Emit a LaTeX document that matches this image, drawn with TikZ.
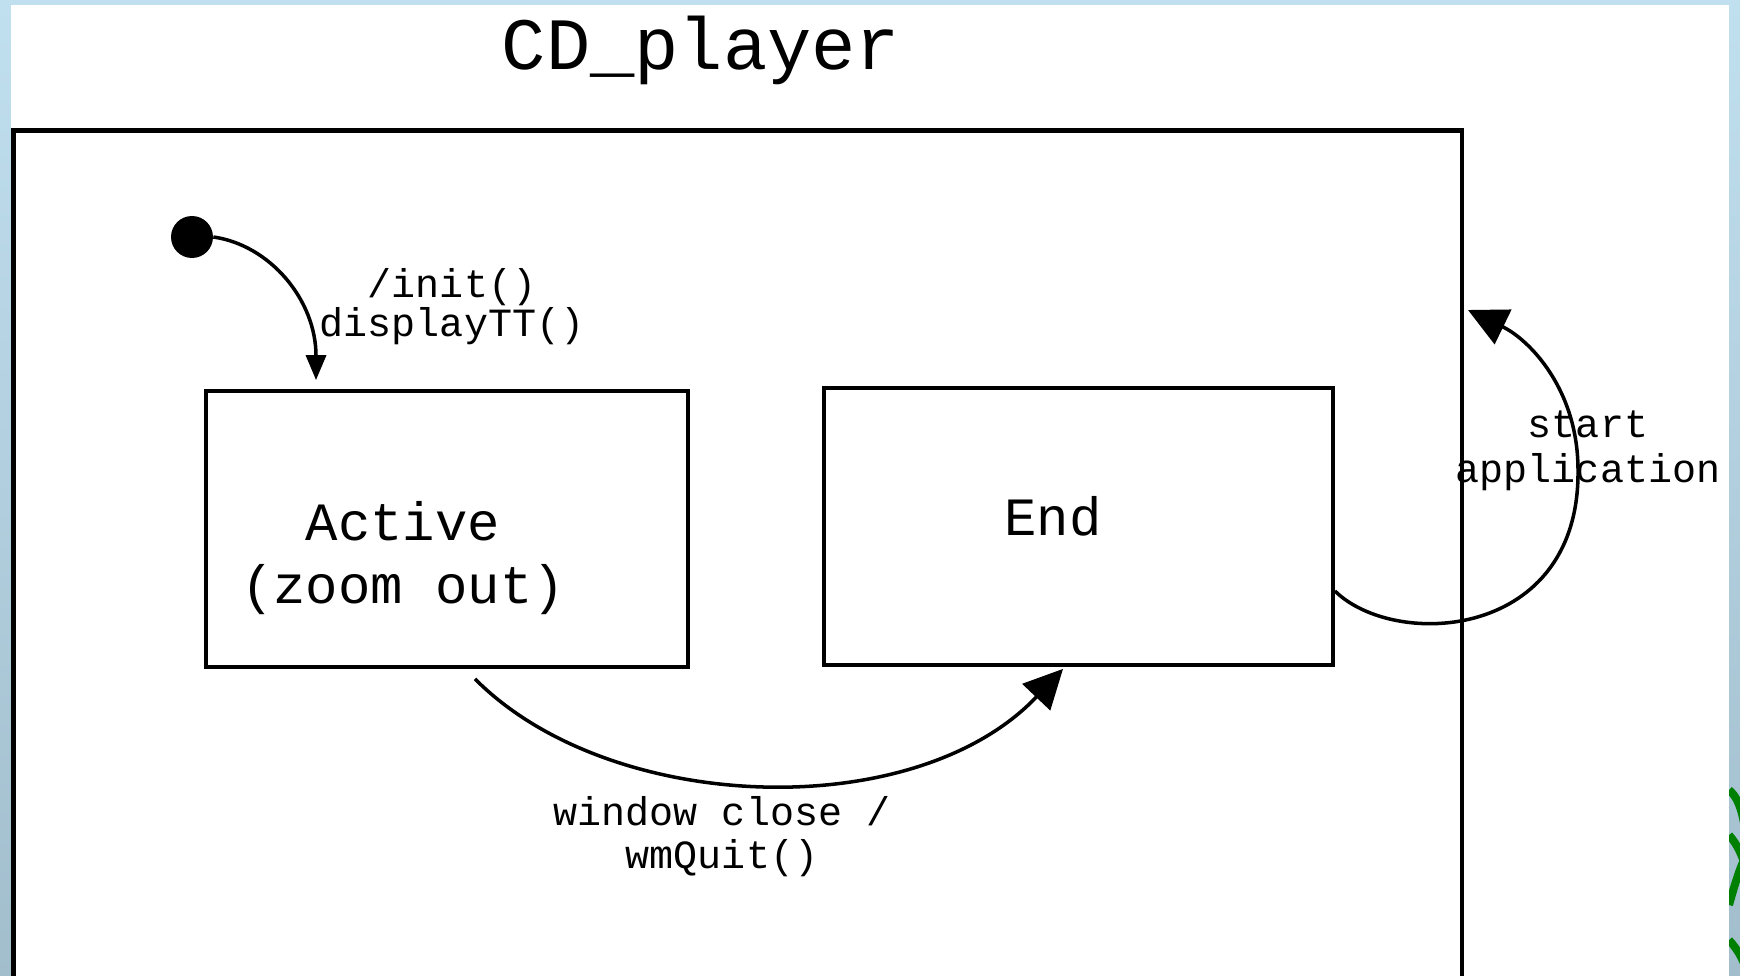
\documentclass[tikz,border=0pt]{standalone}
\usepackage{xcolor}
\usepackage{fontspec}
\setmonofont{Liberation Mono}
\usepackage{tikz}
\usetikzlibrary{arrows.meta, positioning}

\definecolor{slidetop}{RGB}{192,223,239}
\definecolor{slidebot}{RGB}{162,190,205}
\definecolor{leafgreen}{RGB}{0,128,0}

\begin{document}
\begin{tikzpicture}[
            x=0.02cm, y=-0.02cm,
            frm/.style={rectangle, draw, line width=2.6pt,
                    minimum width=28.97cm, minimum height=17.39cm},
            st/.style={rectangle, draw, line width=2.2pt, fill=white},
            ttl/.style={font=\ttfamily\fontsize{42}{46}\selectfont, inner sep=0pt},
            sttxt/.style={font=\ttfamily\fontsize{30.7}{35.3}\selectfont,
                    align=center, inner sep=0pt},
            lbl/.style={font=\ttfamily\fontsize{22.8}{21}\selectfont,
                    align=center, inner sep=0pt},
            ini/.style={circle, fill=black, minimum size=0.84cm, inner sep=0pt},
            rel/.style={draw, line width=2pt, -{Triangle[length=0.78cm,width=0.76cm]}},
            relsm/.style={draw, line width=2pt, -{Triangle[length=0.5cm,width=0.4cm]}},
            leaf/.style={draw=leafgreen, line width=0.16cm}
            ]
            \useasboundingbox (0,0) rectangle (1740,976);

            %% ---- Slide background ----
            \shade[top color=slidetop, bottom color=slidebot] (0,0) rectangle (1740,976);
            \fill[white] (11,5) rectangle (1729,976);
            \begin{scope}
                \clip (1729,780) rectangle (1740,976);
                \draw[leaf] (1729,790) .. controls (1742,800) and (1748,830) .. (1746,870);
                \draw[leaf] (1729,835) .. controls (1738,845) and (1745,860) .. (1748,880);
                \draw[leaf] (1729,905) .. controls (1736,880) and (1742,860) .. (1750,850);
                \draw[leaf] (1729,940) .. controls (1738,950) and (1744,960) .. (1748,976);
            \end{scope}

            %% ---- Composite state ----
            \node[ttl, anchor=base] (title) at (701,70) {CD\_player};
            \node[frm] (cdplayer) at (737.75,565.25) {};

            %% ---- States ----
            \node[ini] (init) at (192,237) {};
            \node[st, minimum width=9.64cm, minimum height=5.52cm] (active) at (447,529) {};
            \node[sttxt, anchor=base] (activetxt) at (403,603) {Active\\(zoom out)};
            \node[st, minimum width=10.18cm, minimum height=5.54cm] (endst) at (1078.5,526.5) {};
            \node[sttxt, anchor=base] (endtxt) at (1053,535) {End};

            %% ---- Transition labels ----
            \node[lbl, anchor=base] (initlbl) at (452,337) {/init()\\displayTT()};
            \node[lbl, anchor=base, font=\ttfamily\fontsize{22.8}{24}\selectfont] (closelbl) at (722,868) {window close /\\wmQuit()};
            \node[lbl, anchor=base, font=\ttfamily\fontsize{22.8}{25.6}\selectfont] (startlbl) at (1588,482) {start\\application};
            \coordinate (reentry) at (1468,310);

            %% ---- Transitions ----
            % initial transition
            \draw[relsm] (init.east) .. controls (270,245) and (316,300) .. ([xshift=-2.62cm,yshift=0.18cm]active.north);
            % Active to End
            \draw[rel] ([xshift=0.56cm,yshift=-0.2cm]active.south) .. controls (610,815) and (915,825) .. ([xshift=-0.31cm,yshift=-0.04cm]endst.south);
            % End back into CD_player
            \draw[rel] ([yshift=-1.29cm]endst.east) .. controls (1395,650) and (1580,640) .. (1578,470)
                .. controls (1578,390) and (1530,340) .. (reentry);
        \end{tikzpicture}
\end{document}
